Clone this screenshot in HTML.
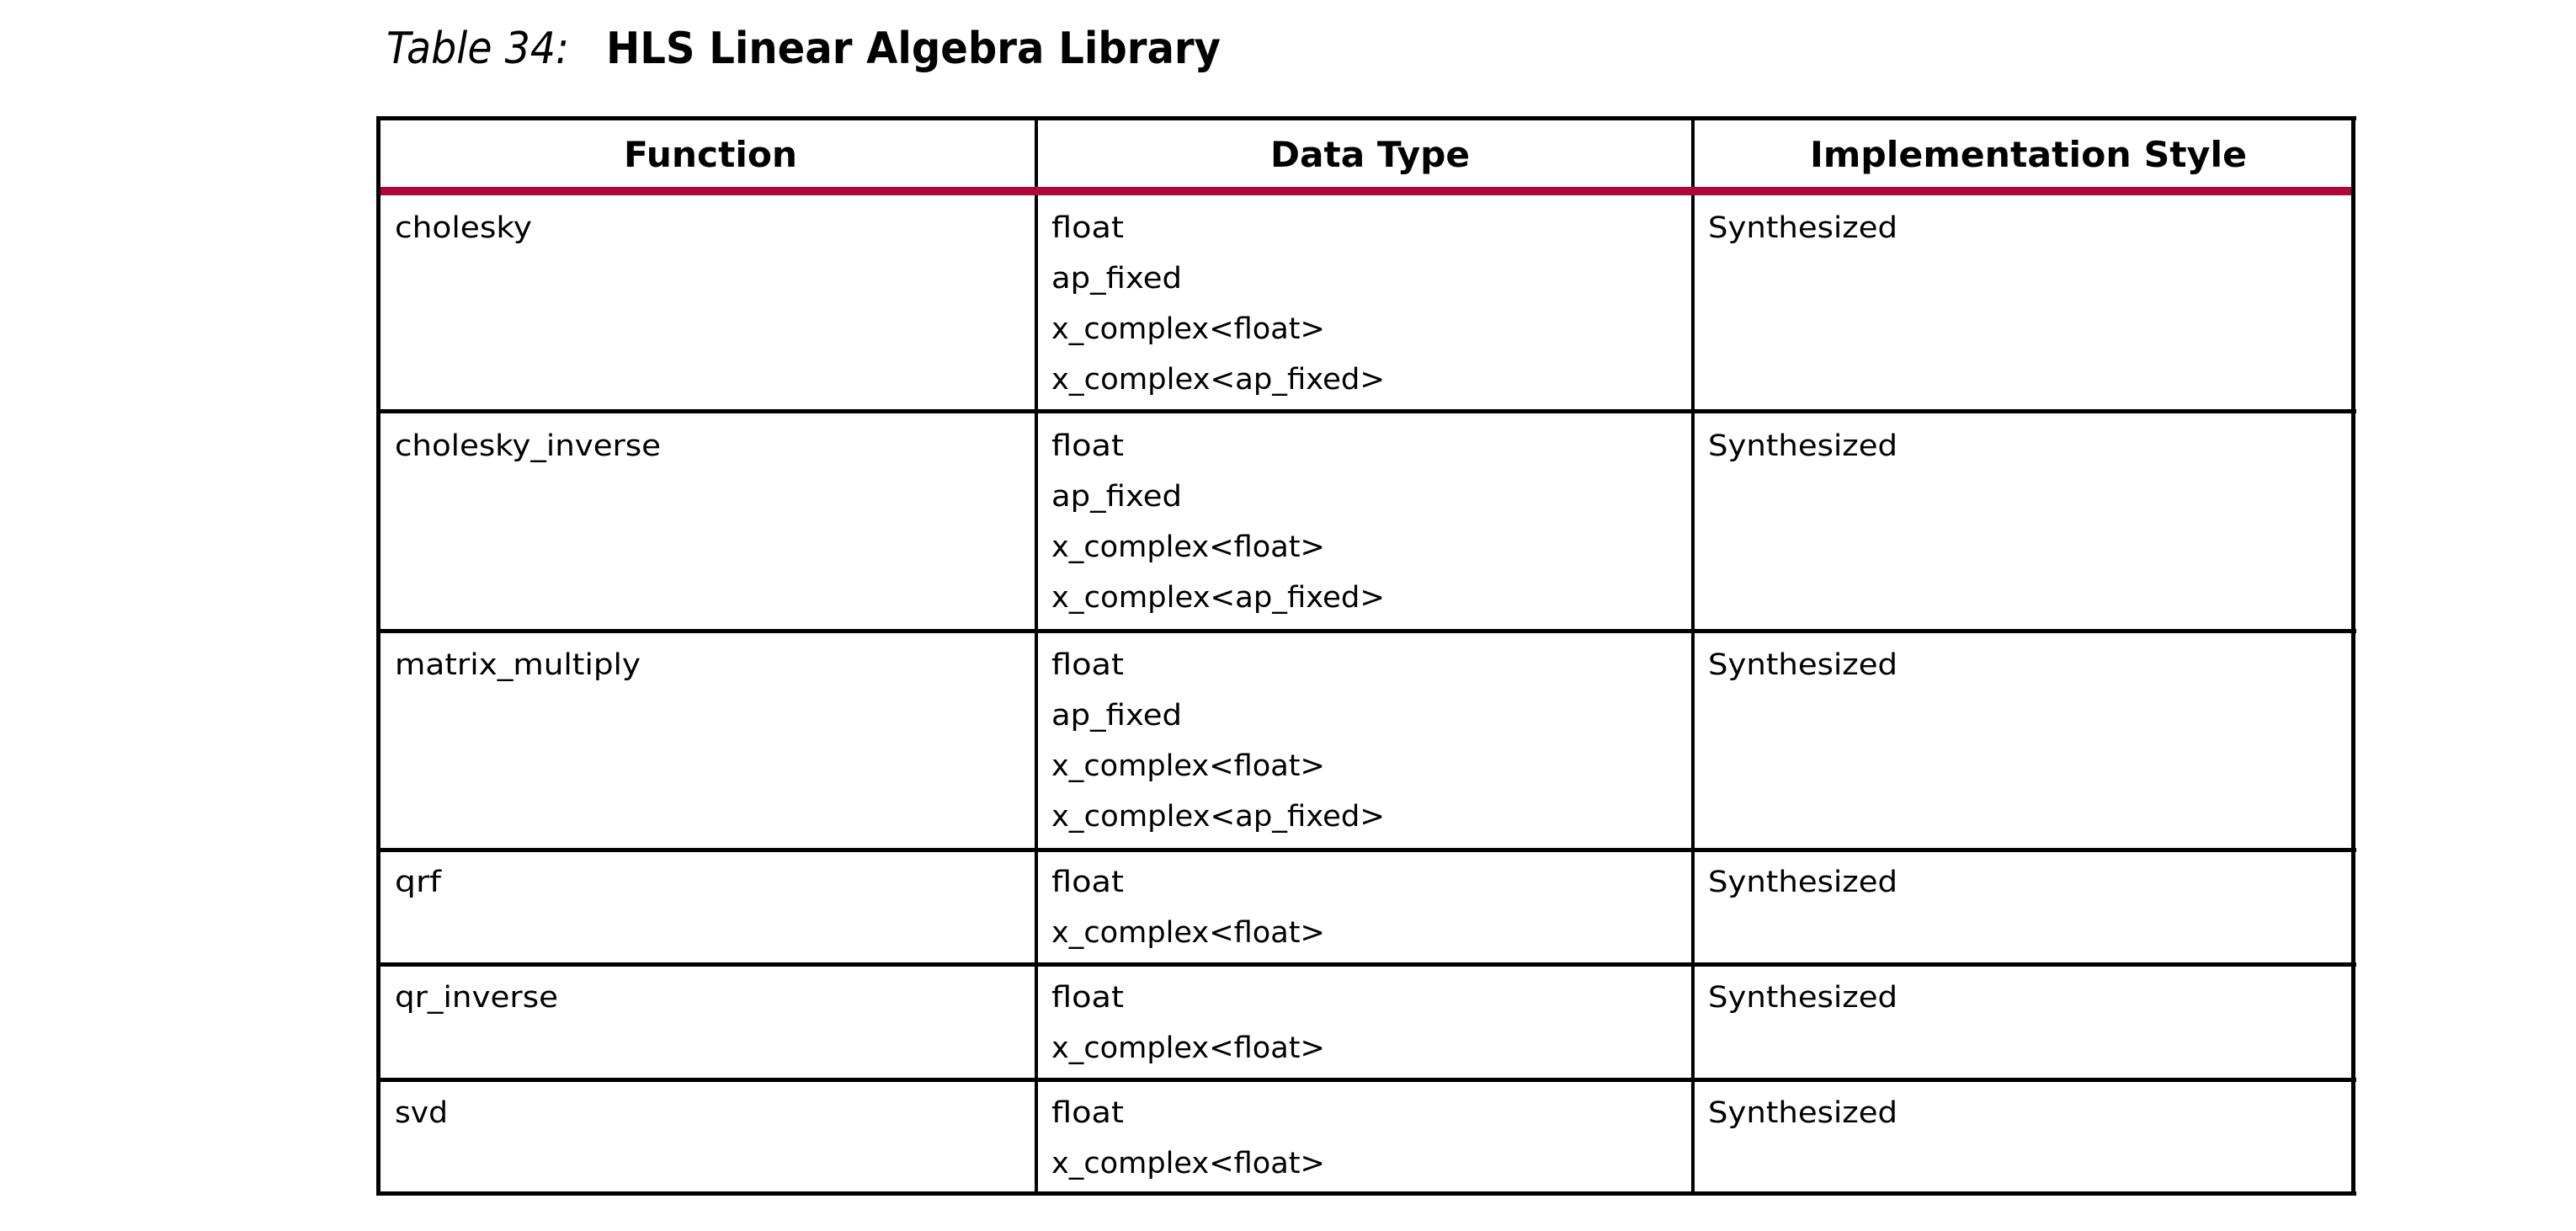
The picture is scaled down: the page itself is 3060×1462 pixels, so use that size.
<!DOCTYPE html>
<html><head><meta charset="utf-8"><style>
html,body{margin:0;padding:0;background:#fff;}
svg{display:block;}
text{font-family:"DejaVu Sans","Liberation Sans",sans-serif;fill:#000;}
.b{font-size:35px;}
.h{font-size:42px;font-weight:bold;}
</style></head><body>
<svg width="3060" height="1462" viewBox="0 0 3060 1462" xmlns="http://www.w3.org/2000/svg">
<rect width="3060" height="1462" fill="#fff"/>
<text x="459" y="75" style="font-size:52px;font-style:italic" textLength="217" lengthAdjust="spacingAndGlyphs">Table 34:</text>
<text x="720" y="75" style="font-size:52px;font-weight:bold" textLength="730" lengthAdjust="spacingAndGlyphs">HLS Linear Algebra Library</text>
<g fill="#000">
<rect x="447" y="138" width="2352" height="5"/>
<rect x="447" y="486" width="2352" height="5"/>
<rect x="447" y="747" width="2352" height="5"/>
<rect x="447" y="1007" width="2352" height="5"/>
<rect x="447" y="1143" width="2352" height="5"/>
<rect x="447" y="1280" width="2352" height="5"/>
<rect x="447" y="1415" width="2352" height="5"/>
<rect x="447" y="138" width="5" height="1282"/>
<rect x="1229" y="138" width="4" height="1282"/>
<rect x="2009" y="138" width="4" height="1282"/>
<rect x="2793" y="138" width="5" height="1282"/>
</g>
<rect x="452" y="222" width="2341" height="10" fill="#b1063a"/>
<text class="h" x="741" y="198" textLength="206" lengthAdjust="spacingAndGlyphs">Function</text>
<text class="h" x="1509" y="198" textLength="237" lengthAdjust="spacingAndGlyphs">Data Type</text>
<text class="h" x="2150" y="198" textLength="519" lengthAdjust="spacingAndGlyphs">Implementation Style</text>

<text class="b" x="469" y="282" textLength="163" lengthAdjust="spacingAndGlyphs">cholesky</text>
<text class="b" x="1249" y="282" textLength="86" lengthAdjust="spacingAndGlyphs">float</text>
<text class="b" x="1249" y="342" textLength="155" lengthAdjust="spacingAndGlyphs">ap_fixed</text>
<text class="b" x="1249" y="402" textLength="325" lengthAdjust="spacingAndGlyphs">x_complex&lt;float&gt;</text>
<text class="b" x="1249" y="462" textLength="396" lengthAdjust="spacingAndGlyphs">x_complex&lt;ap_fixed&gt;</text>
<text class="b" x="2029" y="282" textLength="225" lengthAdjust="spacingAndGlyphs">Synthesized</text>

<text class="b" x="469" y="541" textLength="316" lengthAdjust="spacingAndGlyphs">cholesky_inverse</text>
<text class="b" x="1249" y="541" textLength="86" lengthAdjust="spacingAndGlyphs">float</text>
<text class="b" x="1249" y="601" textLength="155" lengthAdjust="spacingAndGlyphs">ap_fixed</text>
<text class="b" x="1249" y="661" textLength="325" lengthAdjust="spacingAndGlyphs">x_complex&lt;float&gt;</text>
<text class="b" x="1249" y="721" textLength="396" lengthAdjust="spacingAndGlyphs">x_complex&lt;ap_fixed&gt;</text>
<text class="b" x="2029" y="541" textLength="225" lengthAdjust="spacingAndGlyphs">Synthesized</text>

<text class="b" x="469" y="801" textLength="292" lengthAdjust="spacingAndGlyphs">matrix_multiply</text>
<text class="b" x="1249" y="801" textLength="86" lengthAdjust="spacingAndGlyphs">float</text>
<text class="b" x="1249" y="861" textLength="155" lengthAdjust="spacingAndGlyphs">ap_fixed</text>
<text class="b" x="1249" y="921" textLength="325" lengthAdjust="spacingAndGlyphs">x_complex&lt;float&gt;</text>
<text class="b" x="1249" y="981" textLength="396" lengthAdjust="spacingAndGlyphs">x_complex&lt;ap_fixed&gt;</text>
<text class="b" x="2029" y="801" textLength="225" lengthAdjust="spacingAndGlyphs">Synthesized</text>

<text class="b" x="469" y="1059" textLength="55" lengthAdjust="spacingAndGlyphs">qrf</text>
<text class="b" x="1249" y="1059" textLength="86" lengthAdjust="spacingAndGlyphs">float</text>
<text class="b" x="1249" y="1119" textLength="325" lengthAdjust="spacingAndGlyphs">x_complex&lt;float&gt;</text>
<text class="b" x="2029" y="1059" textLength="225" lengthAdjust="spacingAndGlyphs">Synthesized</text>

<text class="b" x="469" y="1196" textLength="194" lengthAdjust="spacingAndGlyphs">qr_inverse</text>
<text class="b" x="1249" y="1196" textLength="86" lengthAdjust="spacingAndGlyphs">float</text>
<text class="b" x="1249" y="1256" textLength="325" lengthAdjust="spacingAndGlyphs">x_complex&lt;float&gt;</text>
<text class="b" x="2029" y="1196" textLength="225" lengthAdjust="spacingAndGlyphs">Synthesized</text>

<text class="b" x="469" y="1333" textLength="63" lengthAdjust="spacingAndGlyphs">svd</text>
<text class="b" x="1249" y="1333" textLength="86" lengthAdjust="spacingAndGlyphs">float</text>
<text class="b" x="1249" y="1393" textLength="325" lengthAdjust="spacingAndGlyphs">x_complex&lt;float&gt;</text>
<text class="b" x="2029" y="1333" textLength="225" lengthAdjust="spacingAndGlyphs">Synthesized</text>
</svg>
</body></html>
